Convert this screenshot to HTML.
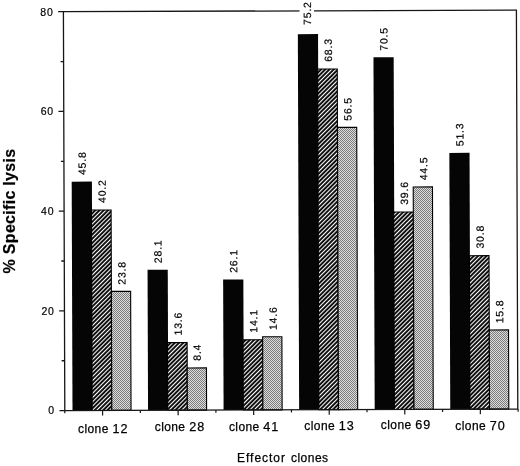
<!DOCTYPE html><html><head><meta charset="utf-8"><style>
html,body{margin:0;padding:0;background:#fff;}
body{width:520px;height:466px;overflow:hidden;}
svg{display:block;filter:grayscale(1);}
text{font-family:"Liberation Sans",sans-serif;fill:#000;}
.t{font-size:10.5px;letter-spacing:0.8px;stroke:#000;stroke-width:0.2px;}
.c{font-size:12px;letter-spacing:0.4px;stroke:#000;stroke-width:0.25px;}
.n{font-size:12.6px;letter-spacing:1px;}
.x{font-size:12px;letter-spacing:0.8px;stroke:#000;stroke-width:0.25px;}
.y{font-size:16px;font-weight:bold;letter-spacing:0.3px;stroke:#000;stroke-width:0.2px;}
</style></head><body>
<svg width="520" height="466" viewBox="0 0 520 466">
<defs>
<pattern id="h" patternUnits="userSpaceOnUse" width="3.0" height="20" patternTransform="rotate(45)"><rect width="3.0" height="20" fill="#050505"/><rect x="1.0" width="1.1" height="20" fill="#ffffff"/></pattern>
<pattern id="g" patternUnits="userSpaceOnUse" width="2" height="2"><rect width="2" height="2" fill="#dcdcdc"/><rect width="1" height="1" fill="#7c7c7c"/><rect x="1" y="1" width="1" height="1" fill="#7c7c7c"/></pattern>
</defs>
<polygon points="71.7,181.69 91.9,181.62 92.7,410.49 72.5,410.56" fill="#050505"/>
<polygon points="91.5,210.07 111.1,210.01 111.8,410.42 92.2,410.49" fill="url(#h)" stroke="#000" stroke-width="1.1"/>
<polygon points="111.38,291.37 130.63,291.31 131.05,410.36 111.8,410.42" fill="url(#g)" stroke="#000" stroke-width="1.1"/>
<polygon points="147.56,269.78 167.76,269.71 168.25,410.23 148.05,410.3" fill="#050505"/>
<polygon points="167.51,342.6 187.11,342.53 187.35,410.16 167.75,410.23" fill="url(#h)" stroke="#000" stroke-width="1.1"/>
<polygon points="187.2,367.99 206.45,367.92 206.6,410.09 187.35,410.16" fill="url(#g)" stroke="#000" stroke-width="1.1"/>
<polygon points="223.14,279.5 243.34,279.43 243.8,409.96 223.6,410.03" fill="#050505"/>
<polygon points="243.05,339.84 262.65,339.77 262.9,409.9 243.3,409.96" fill="url(#h)" stroke="#000" stroke-width="1.1"/>
<polygon points="262.64,336.77 281.89,336.71 282.15,409.83 262.9,409.9" fill="url(#g)" stroke="#000" stroke-width="1.1"/>
<polygon points="297.84,34.13 318.04,34.06 319.35,409.7 299.15,409.77" fill="#050505"/>
<polygon points="317.66,69.01 337.26,68.94 338.45,409.63 318.85,409.7" fill="url(#h)" stroke="#000" stroke-width="1.1"/>
<polygon points="337.46,127.35 356.71,127.28 357.7,409.56 338.45,409.63" fill="url(#g)" stroke="#000" stroke-width="1.1"/>
<polygon points="373.47,57.33 393.67,57.26 394.9,409.44 374.7,409.51" fill="#050505"/>
<polygon points="393.71,212.01 413.31,211.95 414,409.37 394.4,409.44" fill="url(#h)" stroke="#000" stroke-width="1.1"/>
<polygon points="413.22,186.99 432.47,186.92 433.25,409.3 414,409.37" fill="url(#g)" stroke="#000" stroke-width="1.1"/>
<polygon points="449.35,152.91 469.55,152.84 470.45,409.17 450.25,409.24" fill="#050505"/>
<polygon points="469.41,255.68 489.01,255.61 489.55,409.1 469.95,409.17" fill="url(#h)" stroke="#000" stroke-width="1.1"/>
<polygon points="489.27,329.99 508.52,329.92 508.8,409.04 489.55,409.1" fill="url(#g)" stroke="#000" stroke-width="1.1"/>
<polygon points="63.41,11.69 516.4,10.11 517.8,409.01 64.8,410.59" fill="none" stroke="#161616" stroke-width="1.3"/>
<line x1="59.5" y1="410.61" x2="64.8" y2="410.59" stroke="#161616" stroke-width="1.3"/>
<line x1="61.62" y1="360.74" x2="64.62" y2="360.73" stroke="#161616" stroke-width="1.3"/>
<line x1="59.15" y1="310.88" x2="64.45" y2="310.86" stroke="#161616" stroke-width="1.3"/>
<line x1="61.28" y1="261.01" x2="64.28" y2="261" stroke="#161616" stroke-width="1.3"/>
<line x1="58.8" y1="211.16" x2="64.1" y2="211.14" stroke="#161616" stroke-width="1.3"/>
<line x1="60.93" y1="161.29" x2="63.93" y2="161.28" stroke="#161616" stroke-width="1.3"/>
<line x1="58.45" y1="111.43" x2="63.75" y2="111.41" stroke="#161616" stroke-width="1.3"/>
<line x1="60.58" y1="61.56" x2="63.58" y2="61.55" stroke="#161616" stroke-width="1.3"/>
<line x1="58.11" y1="11.71" x2="63.41" y2="11.69" stroke="#161616" stroke-width="1.3"/>
<line x1="64.8" y1="410.59" x2="64.81" y2="413.29" stroke="#161616" stroke-width="1.2"/>
<line x1="140.35" y1="410.32" x2="140.36" y2="413.02" stroke="#161616" stroke-width="1.2"/>
<line x1="215.9" y1="410.06" x2="215.91" y2="412.76" stroke="#161616" stroke-width="1.2"/>
<line x1="291.45" y1="409.8" x2="291.46" y2="412.5" stroke="#161616" stroke-width="1.2"/>
<line x1="367" y1="409.53" x2="367.01" y2="412.23" stroke="#161616" stroke-width="1.2"/>
<line x1="442.55" y1="409.27" x2="442.56" y2="411.97" stroke="#161616" stroke-width="1.2"/>
<line x1="518.1" y1="409.01" x2="518.11" y2="411.7" stroke="#161616" stroke-width="1.2"/>
<line x1="102.57" y1="410.46" x2="102.59" y2="415.46" stroke="#161616" stroke-width="1.2"/>
<line x1="178.12" y1="410.19" x2="178.14" y2="415.19" stroke="#161616" stroke-width="1.2"/>
<line x1="253.67" y1="409.93" x2="253.69" y2="414.93" stroke="#161616" stroke-width="1.2"/>
<line x1="329.22" y1="409.66" x2="329.24" y2="414.66" stroke="#161616" stroke-width="1.2"/>
<line x1="404.77" y1="409.4" x2="404.79" y2="414.4" stroke="#161616" stroke-width="1.2"/>
<line x1="480.32" y1="409.14" x2="480.34" y2="414.14" stroke="#161616" stroke-width="1.2"/>
<text class="t" x="55.01" y="414.42" text-anchor="end">0</text>
<text class="t" x="54.66" y="314.7" text-anchor="end">20</text>
<text class="t" x="54.32" y="214.97" text-anchor="end">40</text>
<text class="t" x="53.97" y="115.25" text-anchor="end">60</text>
<text class="t" x="53.62" y="15.52" text-anchor="end">80</text>
<text class="t" transform="translate(85.78 175.04) rotate(-90.2)">45.8</text>
<text class="t" transform="translate(105.77 202.92) rotate(-90.2)">40.2</text>
<text class="t" transform="translate(125.48 284.73) rotate(-90.2)">23.8</text>
<text class="t" transform="translate(161.63 263.13) rotate(-90.2)">28.1</text>
<text class="t" transform="translate(181.79 335.45) rotate(-90.2)">13.6</text>
<text class="t" transform="translate(200.7 360.74) rotate(-90.2)">8.4</text>
<text class="t" transform="translate(237.22 272.85) rotate(-90.2)">26.1</text>
<text class="t" transform="translate(257.33 332.69) rotate(-90.2)">14.1</text>
<text class="t" transform="translate(276.74 330.12) rotate(-90.2)">14.6</text>
<rect x="299.51" y="8.6" width="14.5" height="4" fill="#fff"/>
<text class="t" transform="translate(311.11 24.88) rotate(-90.2)">75.2</text>
<text class="t" transform="translate(331.93 61.86) rotate(-90.2)">68.3</text>
<text class="t" transform="translate(351.56 120.7) rotate(-90.2)">56.5</text>
<text class="t" transform="translate(387.54 50.68) rotate(-90.2)">70.5</text>
<text class="t" transform="translate(407.98 204.86) rotate(-90.2)">39.6</text>
<text class="t" transform="translate(427.32 180.34) rotate(-90.2)">44.5</text>
<text class="t" transform="translate(463.43 146.26) rotate(-90.2)">51.3</text>
<text class="t" transform="translate(483.69 248.53) rotate(-90.2)">30.8</text>
<text class="t" transform="translate(503.37 323.34) rotate(-90.2)">15.8</text>
<text class="c" x="78.05" y="432.8">clone <tspan class="n">12</tspan></text>
<text class="c" x="154.75" y="430.9">clone <tspan class="n">28</tspan></text>
<text class="c" x="228.95" y="430.6">clone <tspan class="n">41</tspan></text>
<text class="c" x="304.35" y="429.8">clone <tspan class="n">13</tspan></text>
<text class="c" x="380.85" y="429.3">clone <tspan class="n">69</tspan></text>
<text class="c" x="455.35" y="430.3">clone <tspan class="n">70</tspan></text>
<text class="x" x="237.1" y="462.1" style="letter-spacing:0.95px">Effector</text>
<text class="x" x="290.9" y="462.1" style="letter-spacing:0.5px">clones</text>
<text class="y" transform="translate(15.4 211) rotate(-90)" text-anchor="middle">% Specific lysis</text>
</svg></body></html>
